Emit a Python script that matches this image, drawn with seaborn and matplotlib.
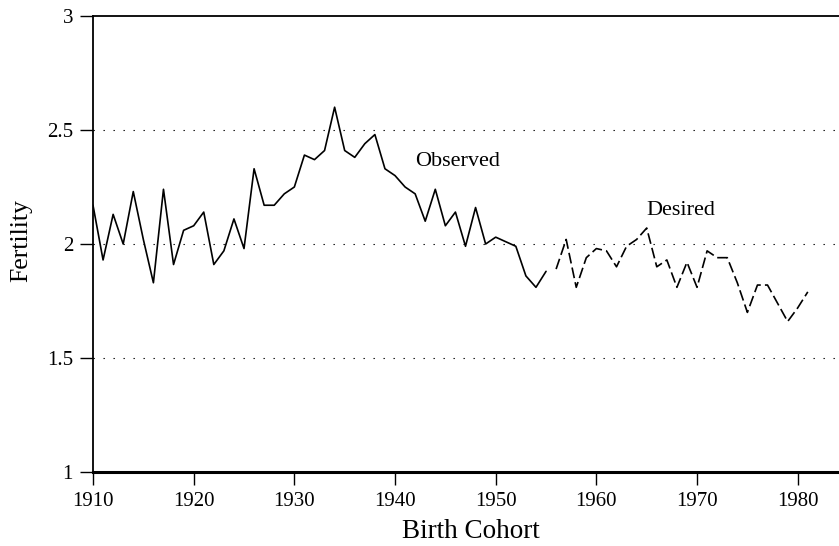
import matplotlib
matplotlib.use("Agg")
import matplotlib.pyplot as plt
import seaborn as sns
import pandas as pd

obs_years = list(range(1910, 1956))
obs_values = [2.17, 1.93, 2.13, 2.00, 2.23, 2.02, 1.83, 2.24, 1.91, 2.06,
              2.08, 2.14, 1.91, 1.97, 2.11, 1.98, 2.33, 2.17, 2.17, 2.22,
              2.25, 2.39, 2.37, 2.41, 2.60, 2.41, 2.38, 2.44, 2.48, 2.33,
              2.30, 2.25, 2.22, 2.10, 2.24, 2.08, 2.14, 1.99, 2.16, 2.00,
              2.03, 2.01, 1.99, 1.86, 1.81, 1.88]
des_years = list(range(1956, 1982))
des_values = [1.89, 2.02, 1.81, 1.94, 1.98, 1.97, 1.90, 1.99, 2.02, 2.07,
              1.90, 1.93, 1.81, 1.92, 1.81, 1.97, 1.94, 1.94, 1.83, 1.70,
              1.82, 1.82, 1.74, 1.66, 1.72, 1.79]
x_ticks = [1910, 1920, 1930, 1940, 1950, 1960, 1970, 1980]
y_ticks = [1, 1.5, 2, 2.5, 3]
y_tick_labels = ["1", "1.5", "2", "2.5", "3"]

obs = pd.DataFrame({"year": obs_years, "fert": obs_values})
des = pd.DataFrame({"year": des_years, "fert": des_values})

sns.set_theme(style="white")
plt.rcParams["font.family"] = ["Liberation Serif", "DejaVu Serif"]

fig = plt.figure(figsize=(8.39, 5.46), dpi=100)
ax = fig.add_axes([93 / 839, 1 - 472 / 546, 1 - 93 / 839, (472 - 16) / 546])

for yv in [1.5, 2, 2.5]:
    ax.axhline(yv, color="black", lw=0.8, ls=(0, (1.2, 7.8)), zorder=1)

sns.lineplot(data=obs, x="year", y="fert", ax=ax, color="black", lw=1.2,
             estimator=None, zorder=3)
sns.lineplot(data=des, x="year", y="fert", ax=ax, color="black", lw=1.2,
             estimator=None, zorder=3)
ax.lines[-1].set_dashes([6.5, 2.5])

ax.set_xlim(1910, 1984.1)
ax.set_ylim(1, 3)
ax.set_xticks(x_ticks)
ax.set_xticklabels([str(t) for t in x_ticks])
ax.set_yticks(y_ticks)
ax.set_yticklabels(y_tick_labels)
ax.tick_params(axis="both", direction="out", length=9.4, width=1.0,
               labelsize=15, color="black", labelcolor="black", pad=5,
               bottom=True, left=True)
ax.set_xlabel("Birth Cohort", fontsize=19.5, color="black")
ax.set_ylabel("Fertility", fontsize=18.5, color="black")
ax.xaxis.set_label_coords(0.5067, -0.103)
ax.yaxis.set_label_coords(-0.081, 0.5077)

for s in ["left", "top"]:
    ax.spines[s].set_visible(True)
    ax.spines[s].set_color("black")
    ax.spines[s].set_linewidth(1.3)
ax.spines["bottom"].set_color("black")
ax.spines["bottom"].set_linewidth(2.2)
ax.spines["right"].set_visible(False)

ax.text(1942.0, 2.342, "Observed", fontsize=16, color="black", va="baseline", ha="left")
ax.text(1965.0, 2.127, "Desired", fontsize=16, color="black", va="baseline", ha="left")

fig.savefig("out.png", dpi=100)
